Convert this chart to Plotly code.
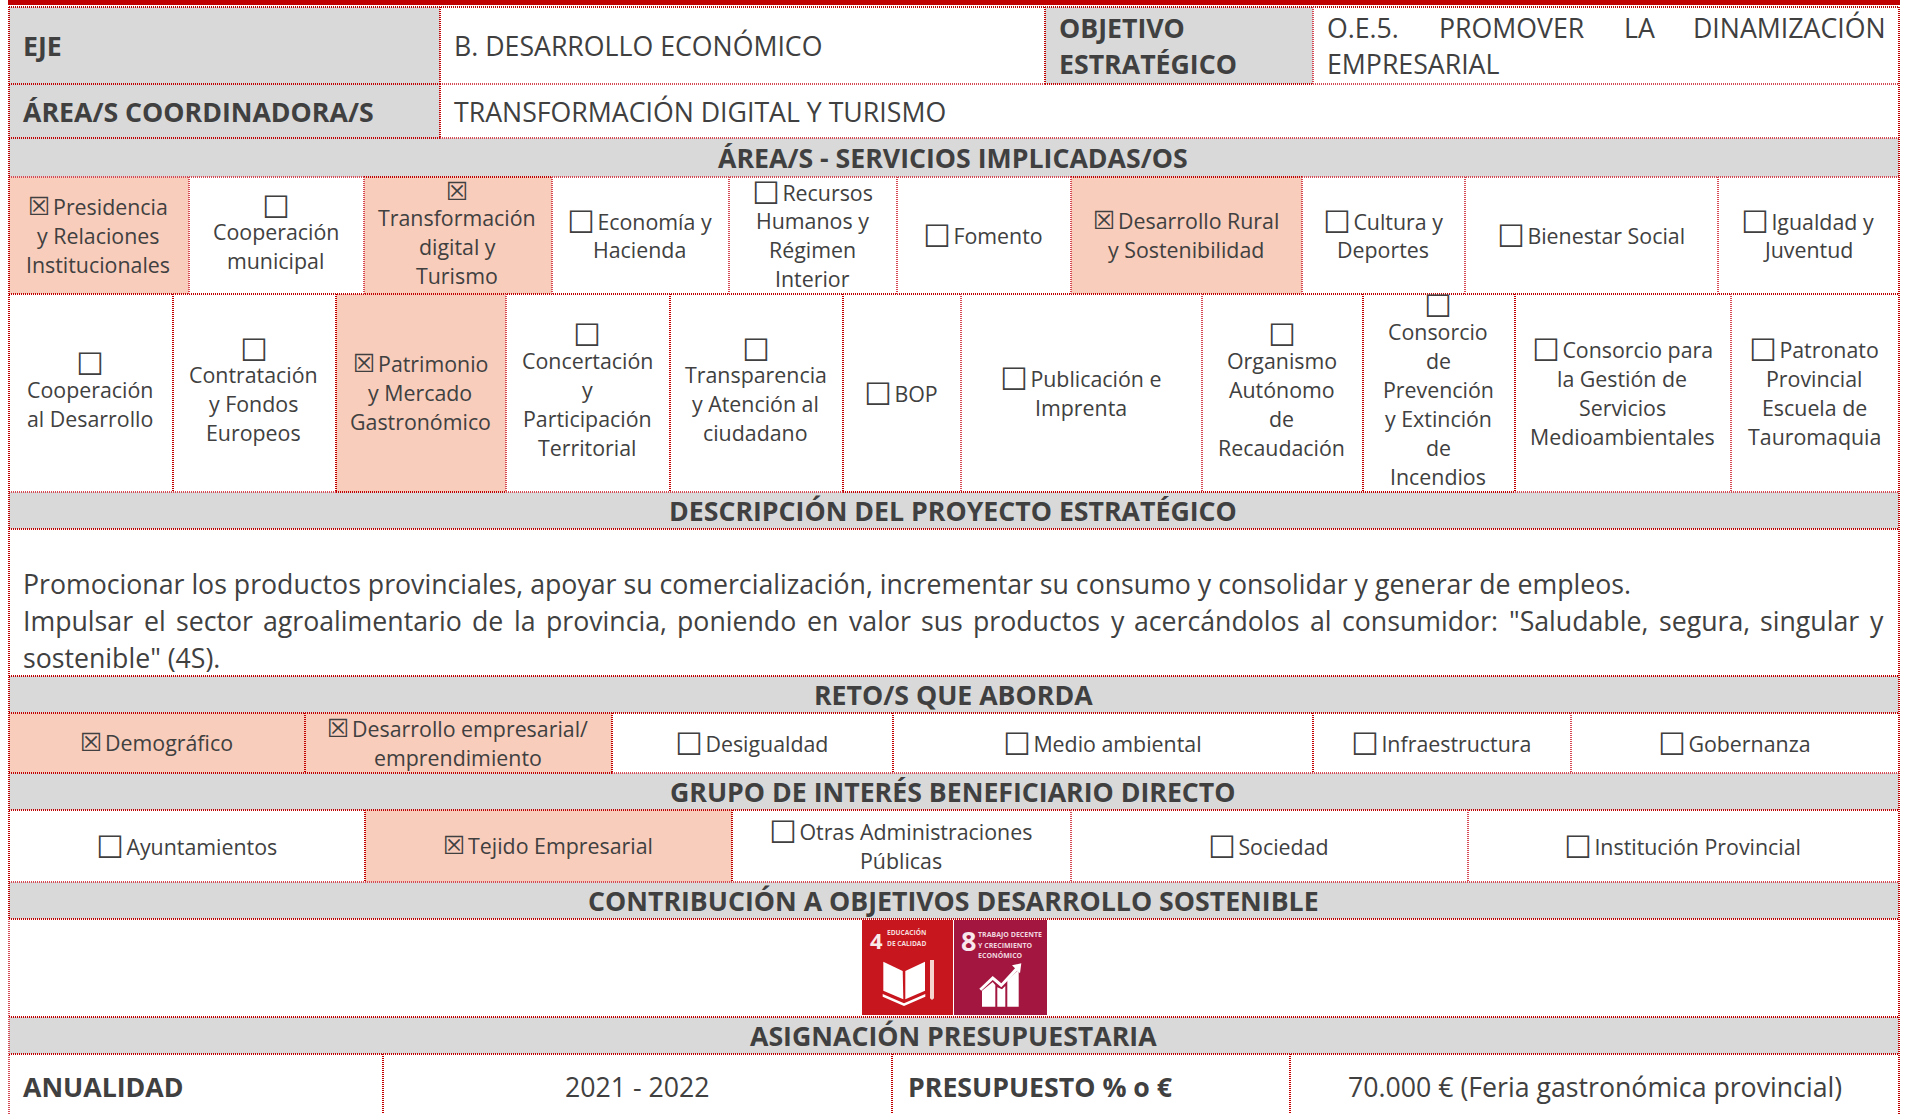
import plotly.graph_objects as go

# ---------- content ----------
section_titles = ["ÁREA/S - SERVICIOS IMPLICADAS/OS", "DESCRIPCIÓN DEL PROYECTO ESTRATÉGICO", "RETO/S QUE ABORDA",
                  "GRUPO DE INTERÉS BENEFICIARIO DIRECTO", "CONTRIBUCIÓN A OBJETIVOS DESARROLLO SOSTENIBLE",
                  "ASIGNACIÓN PRESUPUESTARIA"]

areas_1 = [["☒ Presidencia", "y Relaciones", "Institucionales"], ["☐", "Cooperación", "municipal"],
           ["☒", "Transformación", "digital y", "Turismo"], ["☐ Economía y", "Hacienda"],
           ["☐ Recursos", "Humanos y", "Régimen", "Interior"], ["☐ Fomento"],
           ["☒ Desarrollo Rural", "y Sostenibilidad"], ["☐ Cultura y", "Deportes"],
           ["☐ Bienestar Social"], ["☐ Igualdad y", "Juventud"]]
areas_2 = [["☐", "Cooperación", "al Desarrollo"], ["☐", "Contratación", "y Fondos", "Europeos"],
           ["☒ Patrimonio", "y Mercado", "Gastronómico"], ["☐", "Concertación", "y", "Participación", "Territorial"],
           ["☐", "Transparencia", "y Atención al", "ciudadano"], ["☐ BOP"], ["☐ Publicación e", "Imprenta"],
           ["☐", "Organismo", "Autónomo", "de", "Recaudación"],
           ["☐", "Consorcio", "de", "Prevención", "y Extinción", "de", "Incendios"],
           ["☐ Consorcio para", "la Gestión de", "Servicios", "Medioambientales"],
           ["☐ Patronato", "Provincial", "Escuela de", "Tauromaquia"]]
retos = [["☒ Demográfico"], ["☒ Desarrollo empresarial/", "emprendimiento"], ["☐ Desigualdad"],
         ["☐ Medio ambiental"], ["☐ Infraestructura"], ["☐ Gobernanza"]]
grupos = [["☐ Ayuntamientos"], ["☒ Tejido Empresarial"], ["☐ Otras Administraciones", "Públicas"],
          ["☐ Sociedad"], ["☐ Institución Provincial"]]

desc_line_1 = "Promocionar los productos provinciales, apoyar su comercialización, incrementar su consumo y consolidar y generar de empleos."
desc_line_2 = ["Impulsar", "el", "sector", "agroalimentario", "de", "la", "provincia,", "poniendo", "en", "valor", "sus",
               "productos", "y", "acercándolos", "al", "consumidor:", '"Saludable,', "segura,", "singular", "y"]
desc_line_3 = 'sostenible" (4S).'
objetivo_line_1 = ["O.E.5.", "PROMOVER", "LA", "DINAMIZACIÓN"]

# ---------- layout geometry (page pixels) ----------
obj_x = [1327, 1438.5, 1624, 1692.5]
L, R = 9, 1899
rows_y = [7, 84, 138, 177, 294, 492, 529, 676, 713, 773, 810, 882, 919, 1017, 1054, 1114]
x_areas1 = [L, 189, 364, 552, 729, 897, 1071, 1302, 1465, 1718, R]
x_areas2 = [L, 173, 336, 506, 670, 843, 961, 1202, 1363, 1515, 1731, R]
x_retos = [L, 305, 612, 893, 1313, 1571, R]
x_grupos = [L, 365, 732, 1071, 1468, R]
x_last = [L, 383, 892, 1290, R]

GREY, PEACH, RED, PALE, INK = "#d9d9d9", "#f9cdbc", "#c00000", "#d64a55", "#404040"
FONT = "Open Sans, DejaVu Sans, sans-serif"
BODY, BIG = 21.36, 26.7
LINE_H, BOX_H = 29, 26

shapes, notes = [], []

def fill(x0, x1, y0, y1, color):
    shapes.append(dict(type="rect", xref="x", yref="y", x0=x0, x1=x1, y0=y0, y1=y1, fillcolor=color,
                       line=dict(width=0), layer="below"))

def seg(x0, y0, x1, y1, dark=False):
    shapes.append(dict(type="line", xref="x", yref="y", x0=x0, y0=y0, x1=x1, y1=y1, layer="above",
                       line=dict(color=RED if dark else PALE, width=2, dash="1px,1px")))

def hline(y, dark=((L, R),)):
    """Pale dotted rule across the table with darker stretches over it."""
    start = L
    for a, b in dark:
        if a > start:
            seg(start, y, a, y)
        seg(a, y, b, y, True)
        start = b
    if start < R:
        seg(start, y, R, y)

def vlines(xs, y0, y1, dark=()):
    for x in xs:
        seg(x, y0, x, y1, x in dark)

def text(x, y, s, size=BODY, bold=False, anchor="center", color=INK):
    if bold:
        s = "<b>" + s + "</b>"
    notes.append(dict(x=x, y=y, xref="x", yref="y", text=s, showarrow=False, xanchor=anchor, yanchor="middle",
                      align="center", font=dict(family=FONT, size=size, color=color), borderpad=0, borderwidth=0))

GAP = '<span style="font-size:10px"> </span>'
BOX_STYLE = {"☐": "font-family:DejaVu Sans;font-size:31px;baseline-shift:-3px",
             "☒": "font-family:DejaVu Sans;font-size:25px"}

def glyph(s):
    ch = s[0]
    if ch in BOX_STYLE:
        rest = s[1:]
        if rest.startswith(" "):
            rest = GAP + rest[1:]
        return f'<span style="{BOX_STYLE[ch]}">{ch}</span>' + rest
    return s

def line_shift(lines, j):
    ln = lines[j]
    alone = lines[0] in ("☐", "☒")
    if ln == "☐":
        return 0.2
    if ln == "☒":
        return -0.5
    if ln.startswith("☐"):
        return 0.7
    return -2.5 if alone else -0.5

def cell_row(xs, y0, y1, contents):
    for i, lines in enumerate(contents):
        x0, x1 = xs[i], xs[i + 1]
        if lines[0].startswith("☒"):
            fill(x0, x1, y0, y1, PEACH)
        alone = lines[0] in ("☐", "☒")
        heights = [BOX_H if j == 0 and alone else LINE_H for j in range(len(lines))]
        y = (y0 + y1) / 2 - sum(heights) / 2
        for j, (ln, h) in enumerate(zip(lines, heights)):
            text((x0 + x1) / 2 - 0.8, y + h / 2 + line_shift(lines, j), glyph(ln))
            y += h

def section(i_row, title):
    y0, y1 = rows_y[i_row], rows_y[i_row + 1]
    fill(L, R, y0, y1, GREY)
    text((L + R) / 2 - 1, (y0 + y1) / 2, title, BIG, True)

# Open Sans advance widths (units per 2048 em), used to justify the long line
ADV = dict(a=1139, b=1255, c=975, d=1255, e=1149, f=694, g=1122, h=1257, i=518, j=518, k=1075, l=518, m=1905,
           n=1257, o=1237, p=1255, q=1255, r=836, s=977, t=723, u=1257, v=1020, w=1593, x=1073, y=1024, z=958)
ADV.update({",": 502, ":": 545, '"': 821, "S": 1124, "I": 571, "á": 1139})

def justified_x(words, x0, x1, size):
    widths = [sum(ADV[c] for c in w) / 2048 * size for w in words]
    gap = (x1 - x0 - sum(widths)) / (len(words) - 1)
    xs, x = [], x0
    for w in widths:
        xs.append(x)
        x += w + gap
    return xs

# top bar
fill(L - 1, R + 1, 0, 5, RED)

# row 1 and 2
fill(L, 440, rows_y[0], rows_y[1], GREY)
fill(1045, 1313, rows_y[0], rows_y[1], GREY)
fill(L, 440, rows_y[1], rows_y[2], GREY)
text(23, 45.5, "EJE", BIG, True, "left")
text(454, 45.5, "B. DESARROLLO ECONÓMICO", BIG, False, "left")
text(1059, 27, "OBJETIVO", BIG, True, "left")
text(1059, 63.5, "ESTRATÉGICO", BIG, True, "left")
for w, x in zip(objetivo_line_1, obj_x):
    text(x, 27, w, BIG, False, "left")
text(1327, 63.5, "EMPRESARIAL", BIG, False, "left")
text(23, 111.5, "ÁREA/S COORDINADORA/S", BIG, True, "left")
text(454, 111.5, "TRANSFORMACIÓN DIGITAL Y TURISMO", BIG, False, "left")

section(2, section_titles[0])
cell_row(x_areas1, rows_y[3], rows_y[4], areas_1)
cell_row(x_areas2, rows_y[4], rows_y[5], areas_2)
section(5, section_titles[1])
text(23, 583.5, desc_line_1, BIG, False, "left")
for w, x in zip(desc_line_2, justified_x(desc_line_2, 23, 1883, BIG)):
    text(x, 620.5, w, BIG, False, "left")
text(23, 657, desc_line_3, BIG, False, "left")
section(7, section_titles[2])
cell_row(x_retos, rows_y[8], rows_y[9], retos)
section(9, section_titles[3])
cell_row(x_grupos, rows_y[10], rows_y[11], grupos)
section(11, section_titles[4])
section(13, section_titles[5])
text(23, 1086.5, "ANUALIDAD", BIG, True, "left")
text(637, 1086.5, "2021 - 2022", BIG)
text(908, 1086.5, "PRESUPUESTO % o €", BIG, True, "left")
text(1595, 1086.5, "70.000 € (Feria gastronómica provincial)", BIG)

# ---------- dotted rules ----------
hline(rows_y[0])
hline(rows_y[1], ((L, 440), (1045, 1313)))
hline(rows_y[2], ((L, 440),))
hline(rows_y[3], ((364, 552), (1071, 1302)))
hline(rows_y[4])
hline(rows_y[5], ((336, 506), (843, 1515)))
hline(rows_y[6])
hline(rows_y[7])
hline(rows_y[8])
hline(rows_y[9], ((L, 612),))
hline(rows_y[10])
hline(rows_y[11], ())
hline(rows_y[12])
hline(rows_y[13])
hline(rows_y[14])
seg(L, rows_y[0], L, rows_y[12], True)
seg(L, rows_y[12], L, 1114)
seg(R, rows_y[0], R, 1114, True)
vlines([440, 1045, 1313], rows_y[0], rows_y[1], (440, 1045))
vlines([440], rows_y[1], rows_y[2], (440,))
vlines(x_areas1[1:-1], rows_y[3], rows_y[4])
vlines(x_areas2[1:-1], rows_y[4], rows_y[5], (173, 336, 670, 843, 1363, 1515))
vlines(x_retos[1:-1], rows_y[8], rows_y[9], (305, 612, 893, 1313))
vlines(x_grupos[1:-1], rows_y[10], rows_y[11], (365, 732))
vlines(x_last[1:-1], rows_y[14], 1114, (383, 892, 1290))

# ---------- SDG tiles ----------
def poly(pts, color="#ffffff"):
    d = "M" + " L".join(f"{800 + a / 3:.1f},{900 + b / 3:.1f}" for a, b in pts) + " Z"
    shapes.append(dict(type="path", xref="x", yref="y", path=d, fillcolor=color, line=dict(width=0), layer="below"))

fill(862, 953, 920, 1015, "#c8161f")
fill(954, 1047, 920, 1015, "#a2163f")
poly([(250, 185), (308, 213), (310, 298), (250, 272)])
poly([(316, 213), (375, 185), (375, 272), (316, 298)])
poly([(248, 282), (312, 310), (376, 282), (376, 290), (312, 318), (248, 290)])
poly([(390, 180), (402, 180), (402, 295), (396, 300), (390, 295)], "#f6d5cf")
poly([(546, 320), (546, 272), (578, 246), (586, 255), (586, 320)])
poly([(592, 320), (592, 262), (606, 268), (616, 258), (616, 320)])
poly([(622, 320), (622, 240), (656, 210), (656, 320)])
poly([(538, 266), (578, 228), (604, 250), (645, 205), (636, 196), (664, 190), (660, 220), (652, 212), (604, 262), (578, 240), (544, 272)])
text(876, 940, "4", 22, True, color="#fbeaea")
text(887, 932, "EDUCACIÓN", 6.6, True, "left", "#f5dcdc")
text(887, 943, "DE CALIDAD", 6.6, True, "left", "#f5dcdc")
text(968, 940, "8", 27, True, color="#f8e8ee")
text(978, 934, "TRABAJO DECENTE", 7, True, "left", "#f1d5df")
text(978, 945, "Y CRECIMIENTO", 7, True, "left", "#f1d5df")
text(978, 955, "ECONÓMICO", 7, True, "left", "#f1d5df")

fig = go.Figure()
fig.update_layout(width=1906, height=1114, margin=dict(l=0, r=0, t=0, b=0), autosize=False,
                  paper_bgcolor="#ffffff", plot_bgcolor="#ffffff", shapes=shapes, annotations=notes, showlegend=False,
                  xaxis=dict(range=[0, 1906], visible=False, fixedrange=True),
                  yaxis=dict(range=[1114, 0], visible=False, fixedrange=True))
fig.write_html("out.html", config=dict(displayModeBar=False),
               post_script="document.body.style.margin='0';document.body.style.overflow='hidden';")
